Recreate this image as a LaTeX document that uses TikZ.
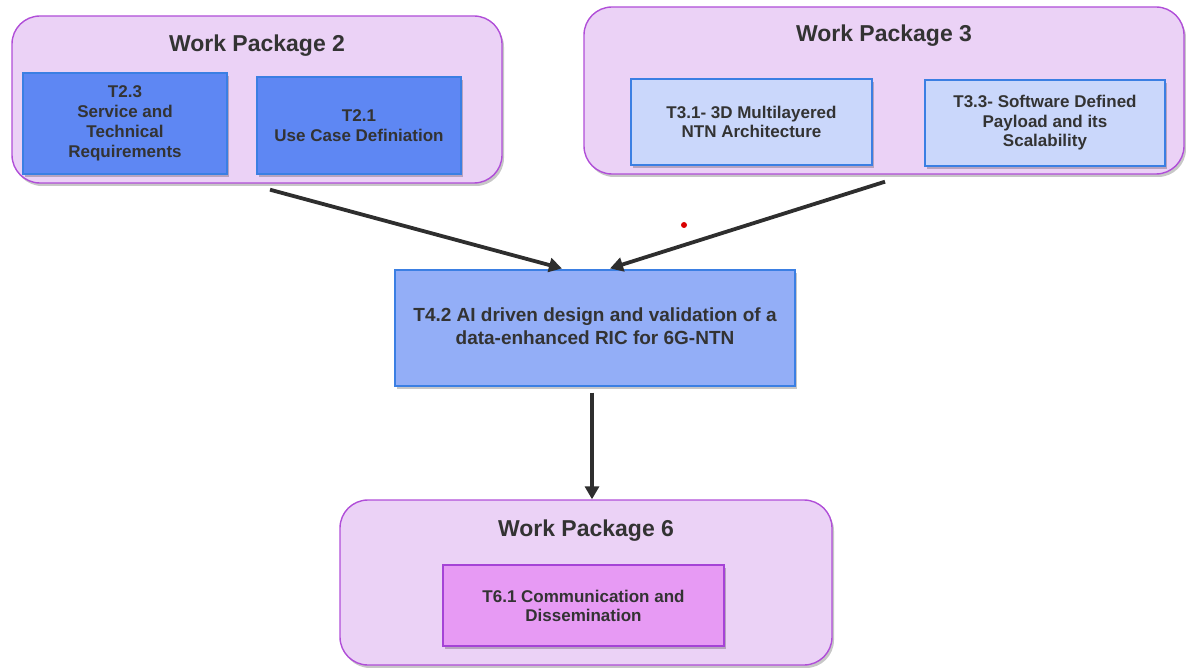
\documentclass[tikz,border=0pt]{standalone}
\usepackage{fontspec}
\setmainfont{Liberation Sans}
\usetikzlibrary{shadows,arrows.meta}

\definecolor{wpfill}{HTML}{EBD2F6}
\definecolor{wpline}{HTML}{B04ED8}
\definecolor{tline}{HTML}{3B7FE3}
\definecolor{ttwo}{HTML}{5E87F3}
\definecolor{tthree}{HTML}{CAD7FB}
\definecolor{tfour}{HTML}{93AEF7}
\definecolor{tsix}{HTML}{E79AF4}
\definecolor{tsixline}{HTML}{A543D6}
\definecolor{ink}{HTML}{333333}
\definecolor{arrowink}{HTML}{2E2E2E}

\begin{document}
\begin{tikzpicture}[x=1pt,y=-1pt,
  shade/.style={drop shadow={shadow xshift=2pt,shadow yshift=-3pt,fill=black,opacity=0.22}},
  wp/.style={draw=wpline,line width=1.4pt,fill=wpfill,rounded corners=28pt,inner sep=0pt,shade},
  wptitle/.style={text=ink,font=\fontsize{23}{27}\selectfont\bfseries},
  task/.style={draw=tline,line width=1.1pt,inner sep=2pt,align=center,text=ink,shade,
    font=\fontsize{17}{20}\selectfont\bfseries},
  flow/.style={draw=arrowink,line width=3.8pt,-{Triangle[length=13pt,width=14pt]}}
]
\useasboundingbox (0,0) rectangle (1186,668);

% Work package containers
\node[wp,minimum width=490pt,minimum height=167pt] (wp2) at (257,99.5) {};
\node[wp,minimum width=600pt,minimum height=167pt] (wp3) at (884,90.5) {};
\node[wp,minimum width=492pt,minimum height=165pt] (wp6) at (586,582.5) {};

\node[wptitle] (wp2t) at (257,46) {Work Package 2};
\node[wptitle] (wp3t) at (884,36) {Work Package 3};
\node[wptitle] (wp6t) at (586,531) {Work Package 6};

% Tasks of WP2
\node[task,fill=ttwo,minimum width=204pt,minimum height=101pt] (t23) at (125,123.5)
  {T2.3\\Service and\\Technical\\Requirements};
\node[task,fill=ttwo,minimum width=204pt,minimum height=97pt] (t21) at (359,125.5)
  {T2.1\\Use Case Definiation};

% Tasks of WP3
\node[task,fill=tthree,minimum width=241pt,minimum height=86pt,
  font=\fontsize{17}{19}\selectfont\bfseries] (t31) at (751.5,122)
  {T3.1- 3D Multilayered\\NTN Architecture};
\node[task,fill=tthree,minimum width=240pt,minimum height=86pt,
  font=\fontsize{17}{19.5}\selectfont\bfseries] (t33) at (1045,123)
  {T3.3- Software Defined\\Payload and its\\Scalability};

% Central task
\node[task,fill=tfour,minimum width=400pt,minimum height=116pt] (t42) at (595,328) {};
\node[text=ink,align=center,font=\fontsize{19}{23}\selectfont\bfseries] (t42t) at (595,326.5)
  {T4.2 AI driven design and validation of a\\data-enhanced RIC for 6G-NTN};

% Task of WP6
\node[task,draw=tsixline,fill=tsix,minimum width=281pt,minimum height=81pt,
  font=\fontsize{17}{19}\selectfont\bfseries] (t61) at (583.5,605.5)
  {T6.1 Communication and\\Dissemination};

% Flows
\draw[flow] ([xshift=13pt,yshift=-6pt]wp2.south) -- ([xshift=-33pt,yshift=1pt]t42.north);
\draw[flow] ([xshift=1pt,yshift=-7pt]wp3.south) -- ([xshift=15pt,yshift=1pt]t42.north);
\draw[flow] ([xshift=-3pt,yshift=-6pt]t42.south) -- ([xshift=6pt]wp6.north);

% Marker dot
\fill[red!85!black] (684,225) circle (3pt);
\end{tikzpicture}
\end{document}
